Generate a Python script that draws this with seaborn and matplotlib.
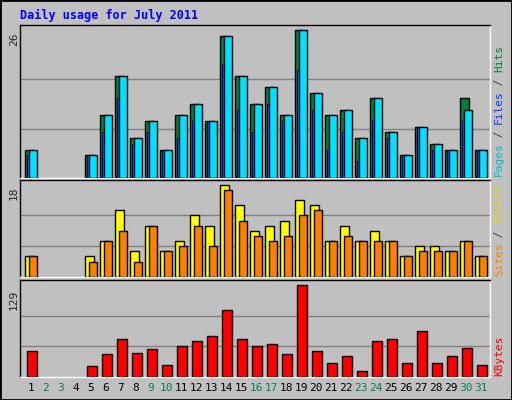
import matplotlib
matplotlib.use("Agg")
import matplotlib.pyplot as plt
import seaborn as sns
import numpy as np

sns.set_style("white")
plt.rcParams['font.family'] = ['DejaVu Sans Mono']

days = list(range(1, 32))
hits  = [5,0,0,0,4,11,18,7,10,5,11,13,10,25,18,13,16,11,26,15,11,12,7,14,8,4,9,6,5,14,5]
files = [5,0,0,0,4,11,18,7,10,5,11,13,10,25,18,13,16,11,26,15,11,12,7,14,8,4,9,6,5,12,5]
pages = [4,0,0,0,4,8,14,6,8,5,7,10,10,20,12,8,13,10,19,12,5,8,3,10,7,4,9,5,5,10,5]
sites = [4,0,0,0,4,7,13,5,10,5,7,12,10,18,14,9,10,11,15,14,7,10,7,9,7,4,6,6,5,7,4]
visits= [4,0,0,0,3,7,9,3,10,5,6,10,6,17,11,8,7,8,12,13,7,8,7,7,7,4,5,5,5,7,4]
kbytes= [36,0,0,0,15,32,53,34,39,17,43,51,57,94,53,43,46,33,129,36,20,30,9,50,54,19,65,20,30,41,17]
weekend = {2,3,9,10,16,17,23,24,30,31}

x = np.array(days, dtype=float)
bg = "#c0c0c0"
fig = plt.figure(figsize=(5.12, 4.0), dpi=100, facecolor=bg)
L, W = 20/512, 470/512
ax1 = fig.add_axes([L, 1-178/400, W, 153/400])
ax2 = fig.add_axes([L, 1-277/400, W, 97/400])
ax3 = fig.add_axes([L, 1-377/400, W, 97/400])

def style(ax, top):
    ax.set_facecolor(bg)
    ax.set_xlim(0.27, 31.6)
    ax.set_ylim(0, top)
    ax.set_xticks([]); ax.set_yticks([])
    for s in ax.spines.values():
        s.set_color("black"); s.set_linewidth(1)
    ax.spines['right'].set_color("white"); ax.spines['bottom'].set_color("white")

def mask(v):
    v = np.array(v, float); return v

ek = dict(edgecolor="black", linewidth=1, zorder=3)
# top
top1 = 26*153/148
style(ax1, top1)
for g in (26/3, 52/3):
    ax1.axhline(g, color="#808080", lw=1, zorder=1)
h = mask(hits); sel = h > 0
ax1.bar(x[sel]-0.38, h[sel], width=0.56, align='edge', color="#008040", **ek)
f = mask(files)
ax1.bar(x[sel]-0.11, f[sel], width=0.49, align='edge', color="#00e0ff", **ek)
p = mask(pages)
ax1.bar(x[sel]-0.27, p[sel], width=0.16, align='edge', color="#0040ff", edgecolor="black", linewidth=0.6, zorder=4)

top2 = 18*97/92.4
style(ax2, top2)
for g in (6, 12):
    ax2.axhline(g, color="#808080", lw=1, zorder=1)
s = mask(sites)
ax2.bar(x[sel]-0.38, s[sel], width=0.56, align='edge', color="#ffff00", **ek)
v = mask(visits)
ax2.bar(x[sel]-0.11, v[sel], width=0.49, align='edge', color="#ff8000", **ek)

top3 = 129*97/91.7
style(ax3, top3)
for g in (43, 86):
    ax3.axhline(g, color="#808080", lw=1, zorder=1)
k = mask(kbytes)
ax3.bar(x[sel]-0.29, k[sel], width=0.66, align='edge', color="#ff0000", **ek)

for d in days:
    ax3.text(d, -0.06, str(d), transform=ax3.get_xaxis_transform(), ha='center', va='top',
             fontsize=8, color="#00805c" if d in weekend else "black")

fig.text(20/512, 1-15/400, "Daily usage for July 2011", color="#0000ff", fontsize=8.5,
         fontweight='bold', va='center', ha='left')
for ax, lab, ypix in ((ax1, "26", 33), (ax2, "18", 186), (ax3, "129", 290)):
    fig.text(14/512, 1-ypix/400, lab, rotation=90, fontsize=8, ha='center', va='top')

def side(ax, parts, y0):
    # parts bottom-to-top
    t = ax.transData
    from matplotlib import transforms
    yy = y0
    for txt, col in parts:
        tt = fig.text(499/512, 1-yy/400, txt, rotation=90, fontsize=8, color=col, ha='center', va='bottom')
        yy -= len(txt)*6.5
side(ax1, [("Pages", "#00c0c0"), (" / ", "#404040"), ("Files", "#0040ff"), (" / ", "#404040"), ("Hits", "#008040")], 176)
side(ax2, [("Sites", "#ff8000"), (" / ", "#404040"), ("Visits", "#e0e000")], 276)
side(ax3, [("KBytes", "#ff0000")], 376)

fig.patches.append(plt.Rectangle((0, 0), 1, 1, transform=fig.transFigure, fill=False,
                                 edgecolor="black", linewidth=2))
fig.savefig("out.png", dpi=100, facecolor=bg)
